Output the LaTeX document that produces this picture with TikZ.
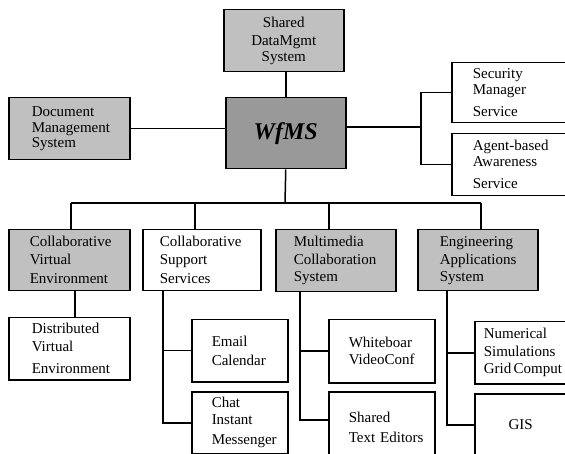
\documentclass[tikz,border=0pt]{standalone}
\usepackage{fontspec}
\setmainfont{Liberation Serif}
\usetikzlibrary{calc}
\definecolor{lgray}{RGB}{192,192,192}
\definecolor{dgray}{RGB}{153,153,153}
\tikzset{
  box/.style={draw=black, line width=1.5pt, rectangle, anchor=north west, inner ysep=0pt, align=left,
    font=\fontsize{15}{17}\selectfont},
  conn/.style={draw=black, line width=1.5pt},
}
\begin{document}
\begin{tikzpicture}[x=1pt,y=-1pt]
\useasboundingbox (0,0) rectangle (565,454);
\clip (0,0) rectangle (565,454);
% top level
\node[box, fill=lgray, align=center, inner xsep=0pt, text width=120pt, minimum width=120pt, minimum height=62pt] (shared) at (223,9) {Shared\\[1pt]DataMgmt\\[-1pt]System};
\node[box, fill=dgray, align=center, inner xsep=0pt, text width=120pt, minimum width=120pt, minimum height=71pt, font=\fontsize{24}{24}\selectfont\bfseries\itshape] (wfms) at (225,97) {\raisebox{-6pt}{WfMS}};
\node[box, fill=lgray, inner xsep=23pt, text width=75pt, minimum width=121pt, minimum height=62pt] (doc) at (8,97) {Document\\[-1.5pt]Management\\[-1.5pt]System};
\node[box, fill=white, inner xsep=21pt, text width=88pt, minimum width=130pt, minimum height=60pt] (sec) at (451,62) {Security\\[-1pt]Manager\\[5pt]Service};
\node[box, fill=white, inner xsep=21pt, text width=88pt, minimum width=130pt, minimum height=62pt] (agent) at (451,133) {Agent-based\\[-1pt]Awareness\\[5pt]Service};
% second level
\node[box, fill=lgray, inner xsep=21pt, text width=79pt, minimum width=121pt, minimum height=61pt] (cve) at (8,229) {Collaborative\\[1pt]Virtual\\[2pt]Environment};
\node[box, fill=white, inner xsep=17pt, text width=84pt, minimum width=118pt, minimum height=61pt] (css) at (142,229) {Collaborative\\[1pt]Support\\[2pt]Services};
\node[box, fill=lgray, inner xsep=18pt, text width=84pt, minimum width=120pt, minimum height=62pt] (mcs) at (275,229) {Multimedia\\[1pt]Collaboration\\System};
\node[box, fill=lgray, inner xsep=22pt, text width=76pt, minimum width=120pt, minimum height=61pt] (eas) at (417,229) {Engineering\\[1pt]Applications\\System};
% third level
\node[box, fill=white, inner xsep=23pt, text width=75pt, minimum width=121pt, minimum height=62pt] (dve) at (8,317) {Distributed\\[1pt]Virtual\\[5pt]Environment};
\node[box, fill=white, inner xsep=20pt, text width=56pt, minimum width=96pt, minimum height=62pt] (email) at (191,319) {Email\\[2pt]Calendar};
\node[box, fill=white, inner xsep=20pt, text width=56pt, minimum width=96pt, minimum height=62pt] (chat) at (191,391) {Chat\\Instant\\[3pt]Messenger};
\node[box, fill=white, inner xsep=20pt, text width=66pt, minimum width=106pt, minimum height=63pt] (wb) at (328,319) {Whiteboar\\VideoConf};
\node[box, fill=white, inner xsep=20pt, text width=66pt, minimum width=106pt, minimum height=72pt] (ste) at (328,391) {Shared\\[3pt]\mbox{Text Editors}};
\node[box, fill=white, inner xsep=9pt, text width=92pt, minimum width=110pt, minimum height=62pt] (num) at (474,321) {Numerical\\[1pt]Simulations\\[0pt]Grid\,Comput};
\node[box, fill=white, align=center, inner xsep=0pt, text width=92pt, minimum width=92pt, minimum height=62pt] (gis) at (474,393) {GIS};
% connectors
\coordinate (rj) at (421,127);
\coordinate (bus) at (285,203);
\coordinate (b1) at (71,203);
\coordinate (b2) at (195,203);
\coordinate (b3) at (329,203);
\coordinate (b4) at (481,203);
\coordinate (cv) at (75,290);
\draw[conn] (wfms.north) -- (wfms.north |- shared.south);
\draw[conn] (doc.east) -- (doc.east -| wfms.west);
\draw[conn] (wfms.east |- rj) -- (rj);
\draw[conn] (sec.west) -- (sec.west -| rj) -- (agent.west -| rj) -- (agent.west);
\draw[conn] (wfms.south) -- (bus);
\draw[conn] (b1) -- (b4);
\draw[conn] (b1) -- (b1 |- cve.north);
\draw[conn] (b2) -- (b2 |- css.north);
\draw[conn] (b3) -- (b3 |- mcs.north);
\draw[conn] (b4) -- (b4 |- eas.north);
\draw[conn] (cv) -- (cv |- dve.north);
\draw[conn] ([xshift=21pt]css.south west) |- (email.west);
\draw[conn] ([xshift=21pt]css.south west) |- (chat.west);
\draw[conn] ([xshift=25pt]mcs.south west) |- (wb.west);
\draw[conn] ([xshift=25pt]mcs.south west) |- ($(ste.north west)+(0,29)$);
\draw[conn] ([xshift=30pt]eas.south west) |- (num.west);
\draw[conn] ([xshift=30pt]eas.south west) |- (gis.west);
\end{tikzpicture}
\end{document}
